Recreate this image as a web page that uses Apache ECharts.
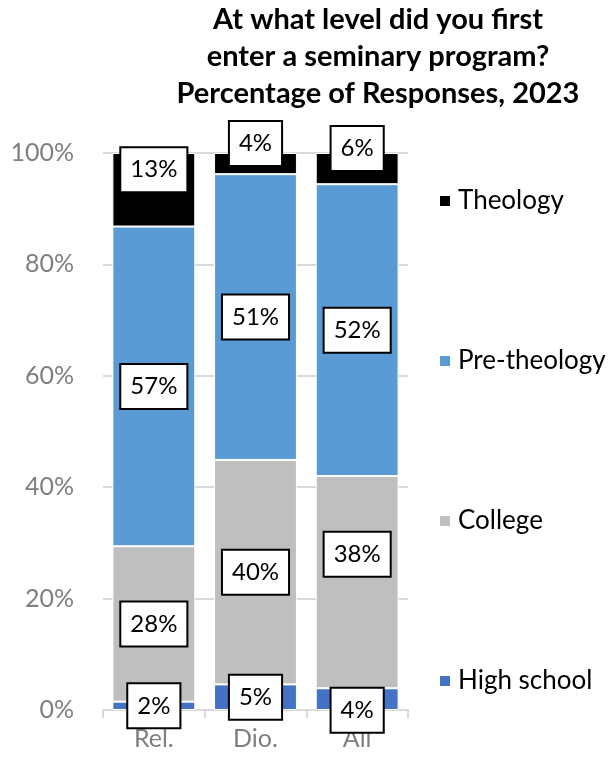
<!DOCTYPE html>
<html>
<head>
<meta charset="utf-8">
<script src="https://cdn.jsdelivr.net/npm/echarts@6/dist/echarts.min.js"></script>
<style>
html,body{margin:0;padding:0;background:#fff;}
#chart{width:613px;height:761px;}
</style>
</head>
<body>
<div id="chart"></div>
<script>
const categories = ['Rel.', 'Dio.', 'All'];
const highSchool = [1.5, 4.6, 3.9];
const college = [27.9, 40.3, 38.1];
const preTheology = [57.4, 51.3, 52.4];
const theology = [13.2, 3.8, 5.6];
const yTicks = [0, 20, 40, 60, 80, 100];
const titleText = 'At what level did you first\nenter a seminary program?\nPercentage of Responses, 2023';

const FONT = 'Lato, "Open Sans", sans-serif';

// label vertical nudges (styling, not data)
const labelNudge = {
  'High school': [0, 0, 11],
  'College': [0, 0, -28],
  'Pre-theology': [0, 0, 0],
  'Theology': [-20, -20, -20]
};

function makeSeries(name, values, color) {
  return {
    name: name,
    type: 'bar',
    stack: 'total',
    barCategoryGap: '18.5%',
    itemStyle: { color: color, borderColor: '#ffffff', borderWidth: 1 },
    data: values.map((v, i) => ({
      value: v,
      label: { offset: [0, labelNudge[name][i]] }
    })),
    label: {
      show: true,
      position: 'inside',
      formatter: p => Math.round(p.value) + '%',
      color: '#000',
      fontFamily: FONT,
      fontSize: 24,
      lineHeight: 24,
      backgroundColor: '#fff',
      borderColor: '#000',
      borderWidth: 2,
      padding: [10, 9, 9, 9]
    },
    emphasis: { disabled: true },
    z: 2
  };
}

const chart = echarts.init(document.getElementById('chart'), null, { renderer: 'canvas' });
chart.setOption({
  animation: false,
  backgroundColor: '#fff',
  graphic: [{
    type: 'text',
    x: 378,
    y: 1,
    style: {
      text: titleText,
      textAlign: 'center',
      textVerticalAlign: 'top',
      fontFamily: FONT,
      fontWeight: 'bold',
      fontSize: 29,
      lineHeight: 37,
      fill: '#000'
    }
  }],
  legend: {
    orient: 'vertical',
    left: 433,
    top: 183,
    data: ['Theology', 'Pre-theology', 'College', 'High school'],
    icon: 'rect',
    itemWidth: 12,
    itemHeight: 12,
    itemGap: 134,
    selectedMode: false,
    textStyle: { fontFamily: FONT, fontSize: 26, lineHeight: 26, color: '#000', padding: [0, 0, 0, 2] }
  },
  grid: { left: 103, right: 205, top: 153, bottom: 51, containLabel: false },
  xAxis: {
    type: 'category',
    data: categories,
    axisLine: { show: true, lineStyle: { color: '#d9d9d9', width: 2 } },
    axisTick: { show: true, length: 8, lineStyle: { color: '#d9d9d9', width: 2 } },
    axisLabel: { color: '#7f7f7f', fontFamily: FONT, fontSize: 25, margin: 16 }
  },
  yAxis: {
    type: 'value',
    min: 0,
    max: 100,
    interval: 20,
    axisLine: { show: false },
    axisTick: { show: false },
    splitLine: { show: true, lineStyle: { color: '#d9d9d9', width: 2 } },
    axisLabel: {
      color: '#7f7f7f', fontFamily: FONT, fontSize: 25, margin: 29,
      formatter: v => yTicks.includes(v) ? v + '%' : ''
    }
  },
  series: [
    makeSeries('High school', highSchool, '#4472C4'),
    makeSeries('College', college, '#BFBFBF'),
    makeSeries('Pre-theology', preTheology, '#5B9BD5'),
    makeSeries('Theology', theology, '#000000')
  ]
});
</script>
</body>
</html>
